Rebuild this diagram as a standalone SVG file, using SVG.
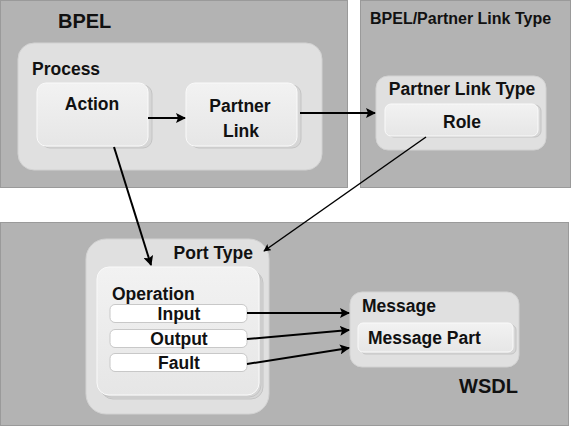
<svg xmlns="http://www.w3.org/2000/svg" width="575" height="430" viewBox="0 0 575 430">
<defs>
<marker id="ah" viewBox="0 0 10 10" refX="9" refY="5" markerWidth="5" markerHeight="5" orient="auto" markerUnits="strokeWidth">
<path d="M0,0 L10,5 L0,10 L2,5 z" fill="#000"/>
</marker>
<linearGradient id="gbox" x1="0" y1="0" x2="0" y2="1">
<stop offset="0" stop-color="#f2f2f2"/>
<stop offset="1" stop-color="#e6e6e6"/>
</linearGradient>
</defs>
<style>
text{font-family:"Liberation Sans",Arial,sans-serif;font-weight:bold;fill:#111}
.panel{fill:#b3b3b3;stroke:#9a9a9a;stroke-width:1}
.cont{fill:#e0e0e0;stroke:#d2d2d2;stroke-width:1}
.shadow{fill:#d6d6d6;stroke:#c4c4c4;stroke-width:1}
.box{fill:url(#gbox);stroke:#fafafa;stroke-width:1}
.pill{fill:#ffffff;stroke:#c8c8c8;stroke-width:1}
.conn{stroke:#000;stroke-width:2;fill:none;marker-end:url(#ah)}
.thin{stroke:#000;stroke-width:1.5;fill:none;marker-end:url(#ah)}
.t{font-size:17.5px}
</style>
<rect width="575" height="430" fill="#fff"/>

<g id="bpel">
<rect class="panel" x="0.5" y="0.5" width="347" height="187"/>
<text x="58" y="28" font-size="20">BPEL</text>
</g>
<g id="bpel-plt">
<rect class="panel" x="360.5" y="0.5" width="210" height="187"/>
<text x="370" y="24" font-size="16">BPEL/Partner Link Type</text>
</g>
<g id="wsdl">
<rect class="panel" x="0.5" y="222.5" width="568" height="203"/>
<text x="459" y="393" font-size="20">WSDL</text>
</g>

<g id="process">
<rect class="cont" x="18" y="43" width="304" height="127" rx="16"/>
<text class="t" x="32" y="75">Process</text>
</g>
<g id="action">
<rect class="shadow" x="41" y="85" width="111" height="63" rx="9"/>
<rect class="box" x="37" y="83" width="111" height="63" rx="9"/>
<text class="t" x="92" y="110" text-anchor="middle">Action</text>
</g>
<g id="partner-link">
<rect class="shadow" x="190" y="85" width="111" height="63" rx="9"/>
<rect class="box" x="186" y="83" width="111" height="63" rx="9"/>
<text class="t" x="240" y="112" text-anchor="middle">Partner</text>
<text class="t" x="241" y="137" text-anchor="middle">Link</text>
</g>

<g id="partner-link-type">
<rect class="cont" x="376" y="76" width="170" height="74" rx="12"/>
<text class="t" x="462" y="95" text-anchor="middle">Partner Link Type</text>
</g>
<g id="role">
<rect class="shadow" x="388" y="105" width="153" height="32" rx="6"/>
<rect class="box" x="385" y="104" width="153" height="32" rx="6"/>
<text class="t" x="462" y="128" text-anchor="middle">Role</text>
</g>

<g id="port-type">
<rect class="cont" x="86" y="239" width="183" height="175" rx="20"/>
<text class="t" x="253" y="259" text-anchor="end">Port Type</text>
</g>
<g id="operation">
<rect class="shadow" x="101" y="271" width="162" height="128" rx="12"/>
<rect class="shadow" x="99" y="269" width="162" height="128" rx="12"/>
<rect class="box" x="97" y="267" width="162" height="128" rx="12"/>
<text class="t" x="112" y="300">Operation</text>
</g>
<g id="input">
<rect class="pill" x="110" y="304.5" width="137" height="18" rx="5"/>
<text class="t" x="179" y="320" text-anchor="middle">Input</text>
</g>
<g id="output">
<rect class="pill" x="110" y="329.5" width="137" height="18" rx="5"/>
<text class="t" x="179" y="345" text-anchor="middle">Output</text>
</g>
<g id="fault">
<rect class="pill" x="110" y="353.5" width="137" height="18" rx="5"/>
<text class="t" x="179" y="369" text-anchor="middle">Fault</text>
</g>

<g id="message">
<rect class="cont" x="350" y="292" width="169" height="75" rx="12"/>
<text class="t" x="362" y="312">Message</text>
</g>
<g id="message-part">
<rect class="shadow" x="361" y="325" width="155" height="29" rx="5"/>
<rect class="box" x="358" y="323" width="155" height="29" rx="5"/>
<text class="t" x="368" y="344">Message Part</text>
</g>

<g id="connectors">
<line class="conn" x1="148" y1="118" x2="185" y2="118"/>
<line class="conn" x1="300" y1="113" x2="375" y2="113"/>
<line class="conn" x1="114" y1="147" x2="151" y2="265"/>
<line class="thin" x1="426" y1="137" x2="264" y2="251"/>
<line class="conn" x1="247" y1="313" x2="349" y2="313"/>
<line class="conn" x1="247" y1="339" x2="349" y2="330"/>
<line class="conn" x1="247" y1="364" x2="349" y2="348"/>
</g>
</svg>
